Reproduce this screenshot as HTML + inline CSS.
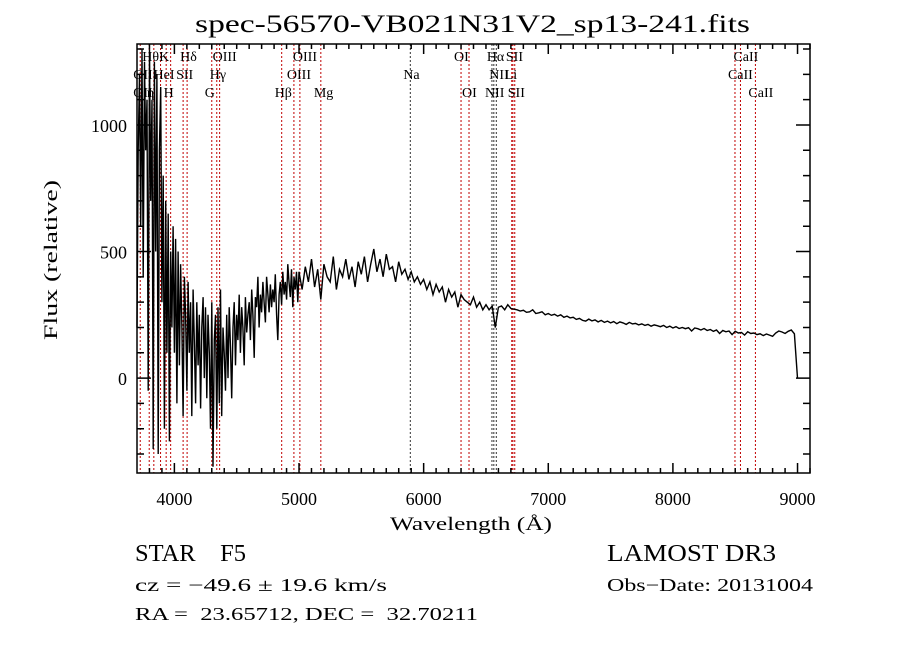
<!DOCTYPE html>
<html><head><meta charset="utf-8"><style>
html,body{margin:0;padding:0;background:#fff;}
svg{display:block;}
text{font-family:"Liberation Serif",serif;fill:#000;white-space:pre;}
</style></head><body>
<svg id="chart" width="900" height="649" viewBox="0 0 900 649" xmlns="http://www.w3.org/2000/svg" xml:space="preserve">
<rect width="900" height="649" fill="#fff"/>
<text x="195" y="32" font-size="25" font-family="Liberation Mono, monospace" textLength="555" lengthAdjust="spacingAndGlyphs">spec-56570-VB021N31V2_sp13-241.fits</text>
<g id="lines"></g>
<g id="labels"></g>
<g id="series"></g>
<g id="axes"></g>
<text x="390" y="530" font-size="19" font-family="Liberation Mono, monospace" textLength="162" lengthAdjust="spacingAndGlyphs">Wavelength (Å)</text>
<text transform="translate(57,340) rotate(-90)" font-size="19" font-family="Liberation Mono, monospace" textLength="160" lengthAdjust="spacingAndGlyphs">Flux (relative)</text>
<text x="135" y="561" font-size="24" textLength="111" lengthAdjust="spacingAndGlyphs">STAR    F5</text>
<text x="607" y="561" font-size="24" textLength="169" lengthAdjust="spacingAndGlyphs">LAMOST DR3</text>
<text x="135" y="591" font-size="18" textLength="252" lengthAdjust="spacingAndGlyphs">cz = −49.6 ± 19.6 km/s</text>
<text x="607" y="591" font-size="18" textLength="206" lengthAdjust="spacingAndGlyphs">Obs−Date: 20131004</text>
<text x="135" y="620" font-size="18" textLength="343" lengthAdjust="spacingAndGlyphs">RA =  23.65712, DEC =  32.70211</text>
</svg>
<script>
const blueStart = 3700;
const blueStep = 10;
const blueFlux = [
200,900,1200,600,1300,400,1250,900,1100,-50,
1300,700,1100,-280,1250,500,1200,-300,900,1150,
300,800,-200,700,100,650,-250,500,200,600,
100,550,-100,500,50,450,200,-150,400,250,
-50,380,100,300,-150,350,150,-100,300,50,
250,-120,200,320,0,280,-80,250,100,-200,
300,-350,150,250,-200,280,-100,350,-150,200,
100,-50,250,0,280,120,-80,200,300,50,
250,150,330,100,280,200,50,320,180,250,
300,150,350,250,80,320,280,400,200,330,
260,380,300,220,400,330,260,370,280,350,
300,410,250,150,330,380,290,420,330,380,
310,450,380,320,430,280,400,350,420,300
];
const redStart = 5000;
const redStep = 25;
const redFlux = [
420,350,440,380,470,360,430,310,450,400,380,480,350,430,400,470,390,440,360,460,
410,480,380,450,510,420,470,400,490,430,440,380,460,410,430,390,420,380,400,370,
390,350,380,330,370,340,360,300,350,320,340,280,330,310,300,290,320,280,300,270,
290,270,285,200,280,285,270,290,275,272,270,265,268,260,262,270,255,258,262,250,
255,248,252,245,250,240,245,238,
240,232,236,228,225,233,226,230,222,228,220,225,218,223,215,222,218,212,220,214,
216,210,214,208,212,205,210,207,203,208,200,205,198,203,196,200,195,199,186,198,
195,190,196,188,192,185,190,176,188,183,186,172,185,178,180,170,183,176,178,172,
175,168,174,170,165,178,186,182,176,185,190,175,0
];
const lineWl = [3726,3798,3835,3889,3934,3970,4070,4102,4300,4340,4363,4861,4959,5007,5175,5893,6300,6364,6548,6563,6583,6707,6716,6731,8498,8542,8662];
const lineColors = ['r','r','r','r','r','r','r','r','r','r','r','r','r','r','r','k','r','r','k','k','k','r','r','r','r','r','r'];
const labelText = ['Hθ','K','Hδ','OIII','OIII','OI','Hα','SII','CaII','OII','HeI','SII','Hγ','OIII','Na','NII','Li','CaII','OII','η','H','G','Hβ','Mg','OI','NII','SII','CaII'];
const labelWl = [3798,3934,4102,4363,5007,6300,6563,6716,8542,3726,3889,4070,4340,4959,5893,6583,6707,8498,3726,3835,3970,4300,4861,5175,6364,6548,6731,8662];
const labelRow = [0,0,0,0,0,0,0,0,0,1,1,1,1,1,1,1,1,1,2,2,2,2,2,2,2,2,2,2];
const xTicks = [4000,5000,6000,7000,8000,9000];
const yTicks = [0,500,1000];

const X0=137,X1=810,Y0=44,Y1=473,XMIN=3700,XMAX=9100,YMIN=-375,YMAX=1320;
const xs = w => X0+(w-XMIN)/(XMAX-XMIN)*(X1-X0);
const ys = v => Y1-(v-YMIN)/(YMAX-YMIN)*(Y1-Y0);
const NS='http://www.w3.org/2000/svg';
function mk(tag,parent){const e=document.createElementNS(NS,tag);parent.appendChild(e);return e;}

const gL=document.getElementById('lines');
lineWl.forEach((w,i)=>{
  const l=mk('line',gL);
  
  
  const x=xs(w);
  l.setAttribute('x1',x);l.setAttribute('x2',x);l.setAttribute('y1',Y0);l.setAttribute('y2',Y1);
  l.setAttribute('stroke',lineColors[i]==='r'?'#c00000':'#333');
  l.setAttribute('stroke-width','1');l.setAttribute('stroke-dasharray','2,2');
});
const gT=document.getElementById('labels');
labelText.forEach((t,i)=>{
  const e=mk('text',gT);
  
  
  e.setAttribute('x',xs(labelWl[i])-7);
  e.setAttribute('y',61+labelRow[i]*18);
  e.setAttribute('font-size','14');
  e.textContent=t;
});
const pts=[];
blueFlux.forEach((v,i)=>pts.push([blueStart+i*blueStep,v]));
redFlux.forEach((v,i)=>pts.push([redStart+i*redStep,v]));
const gS=document.getElementById('series');
const p=mk('path',gS);


p.setAttribute('d',pts.map((q,i)=>(i?'L':'M')+xs(q[0]).toFixed(1)+','+ys(q[1]).toFixed(1)).join(''));
p.setAttribute('fill','none');p.setAttribute('stroke','#000');p.setAttribute('stroke-width','1.4');

const gA=document.getElementById('axes');
const fr=mk('rect',gA);


fr.setAttribute('x',X0);fr.setAttribute('y',Y0);fr.setAttribute('width',X1-X0);fr.setAttribute('height',Y1-Y0);
fr.setAttribute('fill','none');fr.setAttribute('stroke','#000');fr.setAttribute('stroke-width','1.5');
let d='';
for(let w=3800;w<=9100;w+=100){const x=xs(w);const L=(w%1000===0)?10:5;d+=`M${x},${Y1}V${Y1-L}M${x},${Y0}V${Y0+L}`;}
for(let v=-300;v<=1300;v+=100){const y=ys(v);const L=(v%500===0)?14:7;d+=`M${X0},${y}H${X0+L}M${X1},${y}H${X1-L}`;}
const tk=mk('path',gA);


tk.setAttribute('d',d);tk.setAttribute('stroke','#000');tk.setAttribute('stroke-width','1.5');
xTicks.forEach(w=>{
  const e=mk('text',gA);
  
  
  e.setAttribute('x',xs(w));e.setAttribute('y',505);e.setAttribute('font-size','18');
  e.setAttribute('text-anchor','middle');e.setAttribute('font-family','Liberation Sans, sans-serif');
  e.textContent=w;
});
yTicks.forEach(v=>{
  const e=mk('text',gA);
  
  
  e.setAttribute('x',127);e.setAttribute('y',ys(v)+7);e.setAttribute('font-size','18');
  e.setAttribute('text-anchor','end');e.setAttribute('font-family','Liberation Sans, sans-serif');
  e.textContent=v;
});
</script>
</body></html>
